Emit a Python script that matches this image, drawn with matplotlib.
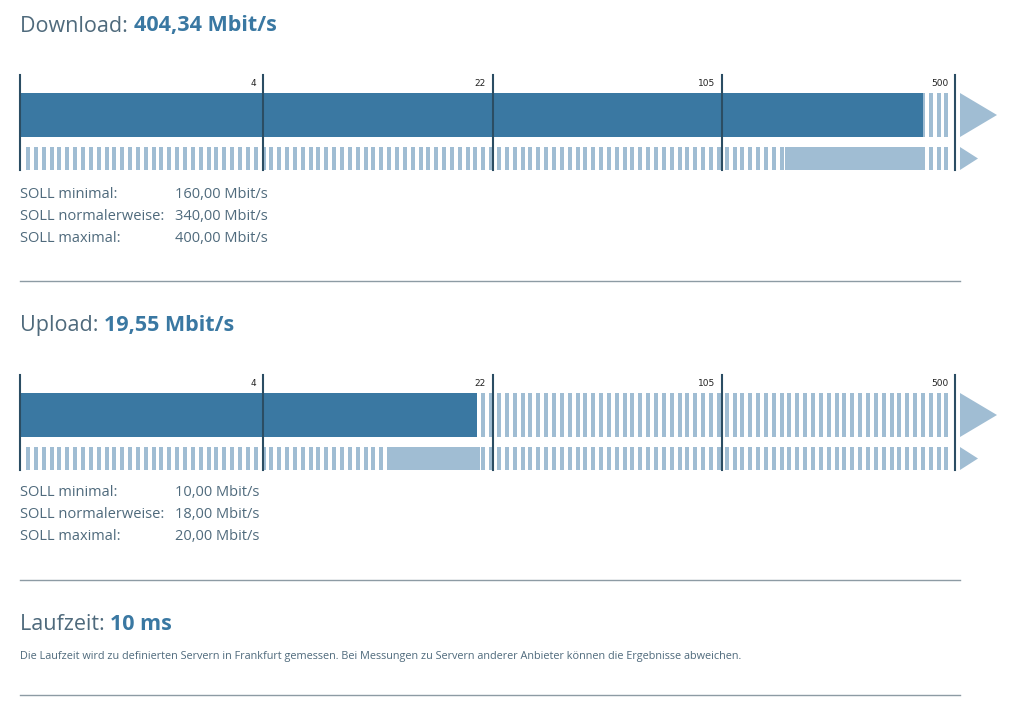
import numpy as np
import matplotlib.pyplot as plt
from matplotlib.patches import Rectangle, Polygon

# gauge scale: piecewise, log inside each segment
breaks = [0, 4, 22, 105, 500]
tick_labels = ["4", "22", "105", "500"]

download = 404.34
download_soll = [160.00, 340.00, 400.00]
upload = 19.55
upload_soll = [10.00, 18.00, 20.00]
laufzeit = 10
soll_names = ["SOLL minimal:", "SOLL normalerweise:", "SOLL maximal:"]
note = ("Die Laufzeit wird zu definierten Servern in Frankfurt gemessen. "
        "Bei Messungen zu Servern anderer Anbieter können die Ergebnisse abweichen.")

DARK = "#3a78a2"
LIGHT = "#a0bdd3"
LINE = "#2b4d63"
TXT = "#4f6a7c"
SEP = "#8d9ba4"

W, H = 1017, 705
X0, X1 = 20, 955
seg_px = np.array([0, 243, 473, 702, 935]) / 935.0


def forward(v):
    v = np.clip(np.asarray(v, float), 0, None)
    a = np.interp(v, [0, 4], seg_px[:2])
    b = np.interp(np.log(np.maximum(v, 4)), np.log(breaks[1:]), seg_px[1:])
    return np.where(v <= 4, a, b)


def inverse(p):
    p = np.asarray(p, float)
    a = np.interp(p, seg_px[:2], [0, 4])
    b = np.exp(np.interp(p, seg_px[1:], np.log(breaks[1:])))
    return np.where(p <= seg_px[1], a, b)


plt.rcParams["font.family"] = ["Open Sans", "DejaVu Sans"]
fig = plt.figure(figsize=(W / 100, H / 100), dpi=100)
bg = fig.add_axes([0, 0, 1, 1])
bg.set_xlim(0, W)
bg.set_ylim(H, 0)
bg.axis("off")


def gauge(y0, value, soll):
    # stripes behind both rows, snapped to whole pixels
    xs = np.round(np.arange(26, X1 - 3, 7.85))
    for x in xs:
        bg.add_patch(Rectangle((x, y0 + 18), 4, 44, color=LIGHT, lw=0))
        bg.add_patch(Rectangle((x, y0 + 72), 4, 23, color=LIGHT, lw=0))
    # arrows
    bg.add_patch(Polygon([[960, y0 + 18], [960, y0 + 62], [997, y0 + 40]],
                         color=LIGHT, lw=0))
    bg.add_patch(Polygon([[960, y0 + 72], [960, y0 + 95], [978, y0 + 83.5]],
                         color=LIGHT, lw=0))

    ax = fig.add_axes([X0 / W, 1 - (y0 + 95) / H, (X1 - X0) / W, 95 / H])
    ax.set_xscale("function", functions=(forward, inverse))
    ax.set_xlim(0, 500)
    ax.set_ylim(95, 0)
    ax.patch.set_alpha(0)
    ax.axis("off")
    ax.barh(40, value, left=0, height=44, color=DARK, lw=0)
    ax.barh(83.5, soll[2] - soll[0], left=soll[0], height=23, color=LIGHT, lw=0)
    for b in breaks:
        ax.axvline(b, color=LINE, lw=1.5, clip_on=False)
    for b, lab in zip(breaks[1:], tick_labels):
        ax.annotate(lab, (b, 8), xytext=(-5, 0), textcoords="offset points",
                    ha="right", va="center", fontsize=6.5, color="#222222",
                    family="DejaVu Sans", annotation_clip=False)
    return ax


def title(y, name, val):
    t = bg.text(X0, y, name + ": ", fontsize=15.5, color=TXT, va="center")
    bg.annotate(val, (1, 0.5), xycoords=t, xytext=(0, 0),
                textcoords="offset points", fontsize=15.5, fontweight="bold",
                color=DARK, va="center", ha="left")


def soll_text(y, vals):
    for i, (n, v) in enumerate(zip(soll_names, vals)):
        yy = y + i * 22
        bg.text(X0, yy, n, fontsize=10.5, color=TXT, va="center")
        bg.text(175, yy, f"{v:.2f}".replace(".", ",") + " Mbit/s",
                fontsize=10.5, color=TXT, va="center")


title(26, "Download", f"{download:.2f}".replace(".", ",") + " Mbit/s")
gauge(75, download, download_soll)
soll_text(194, download_soll)
bg.plot([X0, 960], [281, 281], color=SEP, lw=1)

title(326, "Upload", f"{upload:.2f}".replace(".", ",") + " Mbit/s")
gauge(375, upload, upload_soll)
soll_text(493, upload_soll)
bg.plot([X0, 960], [580, 580], color=SEP, lw=1)

title(624, "Laufzeit", f"{laufzeit} ms")
bg.text(X0, 656, note, fontsize=7.8, color=TXT, va="center")
bg.plot([X0, 960], [695, 695], color=SEP, lw=1)

fig.savefig("out.png", dpi=100)
